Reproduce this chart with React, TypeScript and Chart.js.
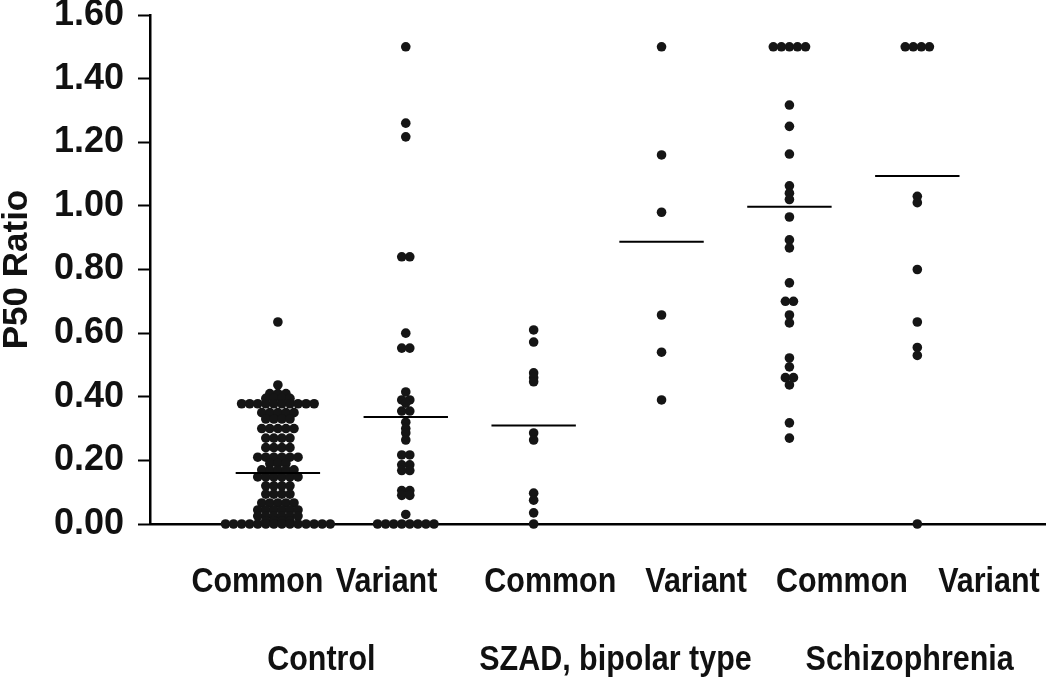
import React, { useEffect, useRef } from "react";
import { Chart, registerables } from "chart.js";

Chart.register(...registerables);

// ---- Data ----
const groupNames = ["Control", "SZAD, bipolar type", "Schizophrenia"];
const subgroupNames = ["Common", "Variant", "Common", "Variant", "Common", "Variant"];
const categoryPositions = [1, 2, 3, 4, 5, 6];
const subgroupLabelPositions = [0.84, 1.85, 3.13, 4.27, 5.41, 6.56];
const groupLabelPositions = [1.34, 3.64, 5.94];
const yTickValues = [0, 0.2, 0.4, 0.6, 0.8, 1.0, 1.2, 1.4, 1.6];

// Control / Common: value rows (each value repeated as many times as dots in that row)
const controlCommon = [
  0.635, 0.437,
  0.41, 0.41, 0.41,
  0.395, 0.395, 0.395, 0.395,
  0.378, 0.378, 0.378, 0.378, 0.378, 0.378, 0.378, 0.378, 0.378, 0.378,
  0.35, 0.35, 0.35, 0.35, 0.35,
  0.33, 0.33, 0.33, 0.33,
  0.3, 0.3, 0.3, 0.3, 0.3,
  0.27, 0.27, 0.27, 0.27,
  0.24, 0.24, 0.24, 0.24,
  0.21, 0.21, 0.21, 0.21, 0.21, 0.21,
  0.19, 0.19, 0.19,
  0.17, 0.17, 0.17, 0.17, 0.17,
  0.148, 0.148, 0.148, 0.148, 0.148, 0.148,
  0.12, 0.12, 0.12, 0.12,
  0.094, 0.094, 0.094, 0.094,
  0.066, 0.066, 0.066, 0.066, 0.066,
  0.044, 0.044, 0.044, 0.044, 0.044, 0.044,
  0.025, 0.025, 0.025, 0.025, 0.025, 0.025,
  0.01, 0.01, 0.01, 0.01,
  0, 0, 0, 0, 0, 0, 0, 0, 0, 0, 0, 0, 0, 0,
];
const controlVariant = [
  1.5, 1.26, 1.217, 0.84, 0.84, 0.6, 0.553, 0.553, 0.415,
  0.39, 0.39, 0.38, 0.355, 0.355, 0.32, 0.3, 0.286, 0.264,
  0.217, 0.217, 0.186, 0.186, 0.168, 0.168,
  0.105, 0.105, 0.09, 0.09, 0.03,
  0, 0, 0, 0, 0, 0, 0, 0,
];
const szadCommon = [0.61, 0.572, 0.475, 0.46, 0.447, 0.286, 0.264, 0.097, 0.075, 0.035, 0];
const szadVariant = [1.5, 1.16, 0.98, 0.657, 0.54, 0.39];
const schizCommon = [
  1.5, 1.5, 1.5, 1.5, 1.5, 1.317, 1.25, 1.163, 1.063, 1.04, 1.02, 0.965,
  0.893, 0.868, 0.758, 0.7, 0.7, 0.657, 0.632, 0.522, 0.494, 0.46, 0.46, 0.437,
  0.318, 0.27,
];
const schizVariant = [1.5, 1.5, 1.5, 1.5, 1.03, 1.01, 0.8, 0.635, 0.555, 0.53, 0];
const groupMeans = [0.16, 0.336, 0.31, 0.887, 0.997, 1.094];

const allGroups = [controlCommon, controlVariant, szadCommon, szadVariant, schizCommon, schizVariant];

// ---- Layout / style constants ----
const DOT_STEP = 0.063; // horizontal spacing between equal-valued dots (x units)
const MEAN_HALF_WIDTH = 0.33;
const DOT_COLOR = "#151515";
const FONT = '"Liberation Sans", Arial, Helvetica, sans-serif';

function swarm(values: number[], center: number) {
  const counts = new Map<number, number>();
  const seen = new Map<number, number>();
  values.forEach((v) => counts.set(v, (counts.get(v) || 0) + 1));
  return values.map((v) => {
    const n = counts.get(v) || 1;
    const k = seen.get(v) || 0;
    seen.set(v, k + 1);
    return { x: center + (k - (n - 1) / 2) * DOT_STEP, y: v };
  });
}

const labelPlugin = {
  id: "categoryLabels",
  afterDraw(chart: any) {
    const { ctx, chartArea } = chart;
    const x = chart.scales.x;
    ctx.save();
    ctx.fillStyle = "#111";
    ctx.textAlign = "center";
    ctx.textBaseline = "middle";
    ctx.font = `bold 35px ${FONT}`;
    const draw = (text: string, xv: number, y: number) => {
      const px = x.getPixelForValue(xv);
      ctx.save();
      ctx.translate(px, y);
      ctx.scale(0.87, 1);
      ctx.fillText(text, 0, 0);
      ctx.restore();
    };
    subgroupNames.forEach((t, i) => draw(t, subgroupLabelPositions[i], chartArea.bottom + 58));
    groupNames.forEach((t, i) => draw(t, groupLabelPositions[i], chartArea.bottom + 136));
    ctx.restore();
  },
};

export default function App() {
  const canvasRef = useRef<HTMLCanvasElement | null>(null);

  useEffect(() => {
    if (!canvasRef.current) return;
    const pointSets = allGroups.map((vals, i) => ({
      type: "scatter" as const,
      data: swarm(vals, categoryPositions[i]),
      backgroundColor: DOT_COLOR,
      borderWidth: 0,
      pointRadius: 4.8,
      pointHoverRadius: 4.8,
      showLine: false,
      clip: false as any,
    }));
    const meanSets = groupMeans.map((m, i) => ({
      type: "scatter" as const,
      data: [
        { x: categoryPositions[i] - MEAN_HALF_WIDTH, y: m },
        { x: categoryPositions[i] + MEAN_HALF_WIDTH, y: m },
      ],
      showLine: true,
      borderColor: "#000",
      borderWidth: 2,
      pointRadius: 0,
      clip: false as any,
    }));

    const chart = new Chart(canvasRef.current, {
      type: "scatter",
      data: { datasets: [...meanSets, ...pointSets] as any },
      options: {
        animation: false,
        responsive: true,
        maintainAspectRatio: false,
        layout: { padding: { top: 0, left: 0, right: 2, bottom: 154 } },
        plugins: { legend: { display: false }, tooltip: { enabled: false } },
        scales: {
          x: {
            type: "linear",
            min: 0,
            max: 7,
            ticks: { display: false },
            grid: { display: false, drawTicks: false },
            border: { display: true, color: "#000", width: 2.5 },
            afterFit: (s: any) => {
              s.height = 0;
            },
          },
          y: {
            type: "linear",
            min: 0,
            max: 1.6,
            afterBuildTicks: (s: any) => {
              s.ticks = yTickValues.map((v) => ({ value: v }));
            },
            ticks: {
              color: "#111",
              padding: 14,
              font: { family: FONT, size: 36, weight: "bold", lineHeight: 0.8 },
              callback: (v: any) => Number(v).toFixed(2),
            },
            grid: {
              display: true,
              drawOnChartArea: false,
              drawTicks: true,
              tickLength: 12,
              tickColor: "#000",
              tickWidth: 2,
            },
            border: { display: true, color: "#000", width: 2.5 },
            title: {
              display: true,
              text: "P50 Ratio",
              color: "#111",
              font: { family: FONT, size: 35, weight: "bold", lineHeight: 1 },
              padding: { top: 0, bottom: 0 },
            },
            afterFit: (s: any) => {
              s.width = 150;
              s.paddingTop = 15;
              s.paddingBottom = 0;
            },
          },
        },
      },
      plugins: [labelPlugin],
    });
    return () => chart.destroy();
  }, []);

  return (
    <div style={{ position: "fixed", left: 0, top: 0, width: 1050, height: 678, background: "#fff" }}>
      <canvas ref={canvasRef} />
    </div>
  );
}
